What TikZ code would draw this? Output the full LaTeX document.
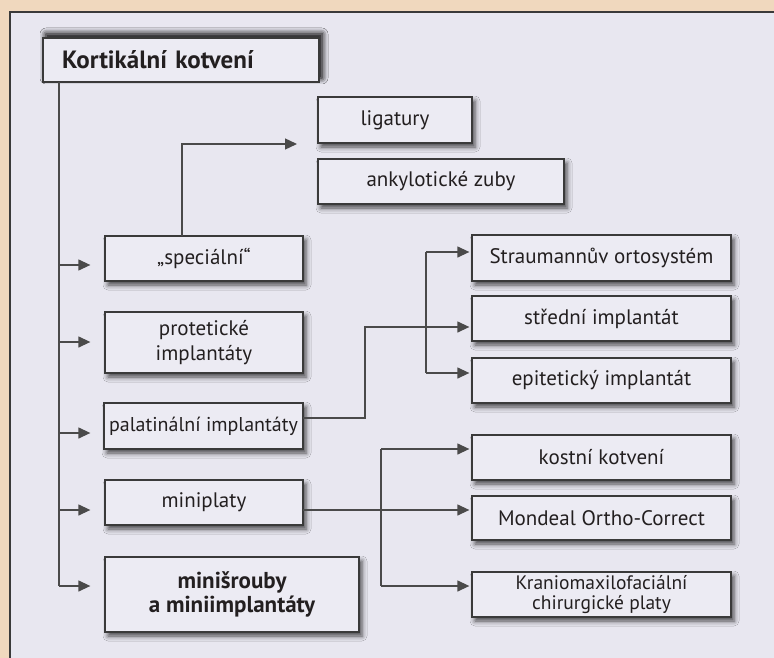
\documentclass[tikz,border=0pt]{standalone}
\usepackage{fontspec}
\setmainfont{PT Sans}
\usetikzlibrary{arrows.meta,shadows.blur}
\definecolor{bgtan}{HTML}{F0D8BE}
\definecolor{panel}{HTML}{E8E7F0}
\definecolor{boxfill}{HTML}{ECEBF3}
\definecolor{edge}{HTML}{3A3A3A}
\definecolor{wire}{HTML}{4A4A4A}
\definecolor{ink}{HTML}{231F20}
\tikzset{
  box/.style={draw=edge, line width=1.3pt, fill=boxfill, rectangle, inner sep=0pt,
    text=ink, align=center, font=\fontsize{21}{25}\selectfont,
    blur shadow={shadow xshift=3pt, shadow yshift=-4pt, shadow blur radius=5pt, shadow opacity=70}},
  arr/.style={draw=wire, line width=1.3pt, -{Triangle[length=12pt,width=11pt]}},
  wireline/.style={draw=wire, line width=1.3pt},
}
\begin{document}
\begin{tikzpicture}[x=1pt,y=-1pt]
\useasboundingbox (0,0) rectangle (774,658);
\fill[bgtan] (0,0) rectangle (774,658);
\fill[panel] (10,12) rectangle (774,658);
\draw[edge, line width=1.2pt] (10,658) -- (10,12) -- (774,12);

% title box
\node[box, minimum width=276pt, minimum height=44pt, text width=238pt, align=left,
  font=\fontsize{25}{28}\selectfont\bfseries,
  blur shadow={shadow xshift=3pt, shadow yshift=4pt, shadow blur radius=6pt, shadow opacity=70}]
  (kort) at (181,60) {Kortikální kotvení};

% left column
\node[box, minimum width=198pt, minimum height=45pt] (spec) at (204,258.5) {„speciální“};
\node[box, minimum width=198pt, minimum height=61pt] (prot) at (204,342.5) {protetické\\implantáty};
\node[box, minimum width=199pt, minimum height=46pt, font=\fontsize{20}{23}\selectfont] (pal) at (203.5,426) {palatinální implantáty};
\node[box, minimum width=198pt, minimum height=45pt] (mpl) at (204,502.5) {miniplaty};
\node[box, minimum width=254pt, minimum height=75pt, font=\fontsize{23}{24}\selectfont\bfseries] (mini) at (232,594.5) {minišrouby\\a miniimplantáty};

% upper boxes
\node[box, minimum width=154pt, minimum height=46pt] (lig) at (395,120) {ligatury};
\node[box, minimum width=246pt, minimum height=45pt] (ank) at (441,181.5) {ankylotické zuby};

% right column
\node[box, minimum width=259pt, minimum height=46pt] (str) at (601.5,258) {Straumannův ortosystém};
\node[box, minimum width=259pt, minimum height=45pt] (sred) at (601.5,318.5) {střední implantát};
\node[box, minimum width=259pt, minimum height=45pt] (epi) at (601.5,380.5) {epitetický implantát};
\node[box, minimum width=259pt, minimum height=45pt] (kost) at (601.5,457.5) {kostní kotvení};
\node[box, minimum width=259pt, minimum height=44pt] (mond) at (601.5,518) {Mondeal Ortho-Correct};
\node[box, minimum width=259pt, minimum height=45pt, font=\fontsize{19.5}{20}\selectfont] (kran) at (601.5,594.5) {Kraniomaxilofaciální\\chirurgické platy};

% trunk
\coordinate (ttop) at (59,82);
\coordinate (t1) at (59,265);
\coordinate (t2) at (59,342);
\coordinate (t3) at (59,433);
\coordinate (t4) at (59,510);
\coordinate (t5) at (59,586);
\draw[wireline] (ttop) -- (t5);
\draw[arr, shorten >=14pt] (t1) -- (t1 -| spec.west);
\draw[arr, shorten >=14pt] (t2) -- (t2 -| prot.west);
\draw[arr, shorten >=13pt] (t3) -- (t3 -| pal.west);
\draw[arr, shorten >=14pt] (t4) -- (t4 -| mpl.west);
\draw[arr, shorten >=14pt] (t5) -- (t5 -| mini.west);

% speciální -> ligatury / ankylotické
\coordinate (s0) at (182,236);
\coordinate (s1) at (182,144);
\coordinate (ligin) at (297,144);
\draw[arr] (s0) -- (s1) -- (ligin);

% palatinální -> bracket
\coordinate (p0) at (303,418);
\coordinate (p1) at (365,418);
\coordinate (p2) at (365,327);
\draw[arr, shorten >=2pt] (p0) -- (p1) -- (p2) -- (p2 -| sred.west);
\coordinate (b1t) at (426,252);
\coordinate (b1b) at (426,373);
\draw[wireline] (b1t) -- (b1b);
\draw[arr, shorten >=2pt] (b1t) -- (b1t -| str.west);
\draw[arr, shorten >=2pt] (b1b) -- (b1b -| epi.west);

% miniplaty -> bracket
\coordinate (m0) at (303,510);
\draw[arr, shorten >=2pt] (m0) -- (m0 -| mond.west);
\coordinate (b2t) at (381,449);
\coordinate (b2b) at (381,586);
\draw[wireline] (b2t) -- (b2b);
\draw[arr, shorten >=2pt] (b2t) -- (b2t -| kost.west);
\draw[arr, shorten >=2pt] (b2b) -- (b2b -| kran.west);
\end{tikzpicture}
\end{document}
